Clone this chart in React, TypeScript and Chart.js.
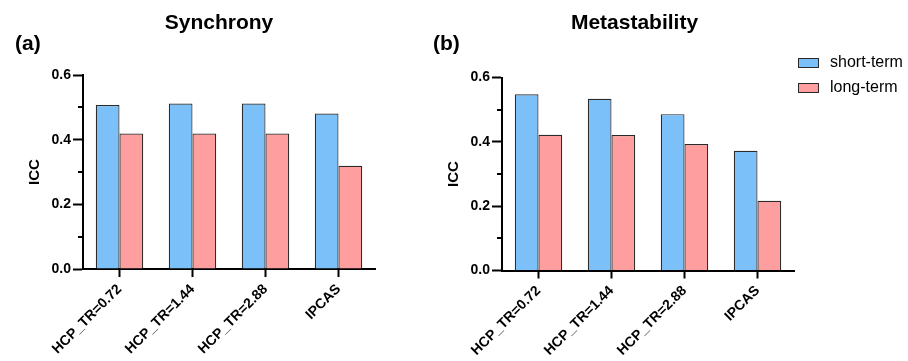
import React, { useEffect, useRef } from "react";
import { Chart, registerables } from "chart.js";

Chart.register(...registerables);

const categories = ["HCP_TR=0.72", "HCP_TR=1.44", "HCP_TR=2.88", "IPCAS"];
const seriesNames = ["short-term", "long-term"];
const synchronyShort = [0.507, 0.512, 0.512, 0.481];
const synchronyLong = [0.419, 0.419, 0.419, 0.319];
const metastabilityShort = [0.548, 0.534, 0.486, 0.372];
const metastabilityLong = [0.422, 0.421, 0.393, 0.217];
const yMin = 0;
const yMax = 0.6;
const yStep = 0.2;
const minorTicks = [0.1, 0.3, 0.5];

const FONT = "'Liberation Sans', Arial, sans-serif";
const BLUE = "#7cc0fa";
const PINK = "#ff9e9e";
const EDGE = "#2a2a2a";

const panelPlugin = {
  id: "panelDecor",
  afterDraw(chart: any, _args: any, opts: any) {
    const ctx = chart.ctx;
    const ca = chart.chartArea;
    const y = chart.scales.y;
    ctx.save();
    ctx.strokeStyle = "#000";
    ctx.lineWidth = 2;
    for (const v of minorTicks) {
      const py = Math.round(y.getPixelForValue(v));
      ctx.beginPath();
      ctx.moveTo(ca.left - 5, py);
      ctx.lineTo(ca.left, py);
      ctx.stroke();
    }
    ctx.fillStyle = "#000";
    ctx.textBaseline = "middle";
    ctx.textAlign = "center";
    ctx.font = `bold 21px ${FONT}`;
    ctx.fillText(opts.title, opts.titleX, opts.titleY);
    ctx.textAlign = "left";
    ctx.font = `bold 21px ${FONT}`;
    ctx.fillText(opts.label, opts.labelX, opts.labelY);
    if (opts.legendX != null) {
      const ds = chart.data.datasets;
      ds.forEach((d: any, i: number) => {
        const cy = opts.legendY + i * 25;
        ctx.fillStyle = d.backgroundColor;
        ctx.fillRect(opts.legendX, cy - 4.5, 20, 9);
        ctx.strokeStyle = EDGE;
        ctx.lineWidth = 1;
        ctx.strokeRect(opts.legendX + 0.5, cy - 4.5, 20, 9);
        ctx.fillStyle = "#000";
        ctx.font = `16px ${FONT}`;
        ctx.textAlign = "left";
        ctx.textBaseline = "middle";
        ctx.fillText(d.label, opts.legendX + 32, cy);
      });
    }
    ctx.restore();
  },
};

function makeConfig(short: number[], long: number[], p: any) {
  return {
    type: "bar" as const,
    data: {
      labels: categories,
      datasets: [
        {
          label: seriesNames[0],
          data: short,
          backgroundColor: BLUE,
          borderColor: EDGE,
          borderWidth: 1.2,
          categoryPercentage: 0.65,
          barPercentage: 1,
        },
        {
          label: seriesNames[1],
          data: long,
          backgroundColor: PINK,
          borderColor: EDGE,
          borderWidth: 1.2,
          categoryPercentage: 0.65,
          barPercentage: 1,
        },
      ],
    },
    options: {
      responsive: false,
      animation: false,
      devicePixelRatio: 1,
      layout: { padding: { left: 0, top: p.top, right: p.right, bottom: 0 } },
      plugins: {
        legend: { display: false },
        tooltip: { enabled: false },
        title: { display: false },
        panelDecor: p.decor,
      },
      scales: {
        x: {
          offset: true,
          grid: {
            offset: false,
            drawOnChartArea: false,
            drawTicks: true,
            tickLength: 8,
            tickWidth: 2,
            tickColor: "#000",
          },
          border: { display: true, color: "#000", width: 2 },
          ticks: {
            autoSkip: false,
            minRotation: 45,
            maxRotation: 45,
            padding: 4,
            color: "#000",
            font: { family: FONT, size: 14, weight: "bold" },
          },
          afterFit: (s: any) => {
            s.height = p.xHeight;
          },
        },
        y: {
          min: yMin,
          max: yMax,
          grid: {
            drawOnChartArea: false,
            drawTicks: true,
            tickLength: 10,
            tickWidth: 2,
            tickColor: "#000",
          },
          border: { display: true, color: "#000", width: 2 },
          ticks: {
            stepSize: yStep,
            padding: 2,
            color: "#000",
            font: { family: FONT, size: 14, weight: "bold" },
            callback: (v: any) => Number(v).toFixed(1),
          },
          title: {
            display: true,
            text: "ICC",
            color: "#000",
            font: { family: FONT, size: 15, weight: "bold" },
            padding: { top: p.icc, bottom: 0 },
          },
          afterFit: (s: any) => {
            s.width = p.yWidth;
          },
        },
      },
    },
    plugins: [panelPlugin],
  };
}

function Panel(props: { w: number; left: number; short: number[]; long: number[]; p: any }) {
  const ref = useRef<HTMLCanvasElement>(null);
  useEffect(() => {
    const chart = new Chart(ref.current as HTMLCanvasElement, makeConfig(props.short, props.long, props.p) as any);
    return () => chart.destroy();
  }, []);
  return (
    <canvas
      ref={ref}
      width={props.w}
      height={361}
      style={{ position: "absolute", left: props.left, top: 0, width: props.w, height: 361 }}
    />
  );
}

export default function App() {
  return (
    <div style={{ position: "absolute", left: 0, top: 0, width: 908, height: 361, background: "#fff" }}>
      <Panel
        w={420}
        left={0}
        short={synchronyShort}
        long={synchronyLong}
        p={{
          top: 75,
          right: 45,
          xHeight: 92,
          yWidth: 83,
          icc: 26,
          decor: { title: "Synchrony", titleX: 219, titleY: 23, label: "(a)", labelX: 15, labelY: 44 },
        }}
      />
      <Panel
        w={488}
        left={420}
        short={metastabilityShort}
        long={metastabilityLong}
        p={{
          top: 77.5,
          right: 114,
          xHeight: 90.5,
          yWidth: 82,
          icc: 25,
          decor: {
            title: "Metastability",
            titleX: 214.5,
            titleY: 23,
            label: "(b)",
            labelX: 13,
            labelY: 44,
            legendX: 378,
            legendY: 63,
          },
        }}
      />
    </div>
  );
}
